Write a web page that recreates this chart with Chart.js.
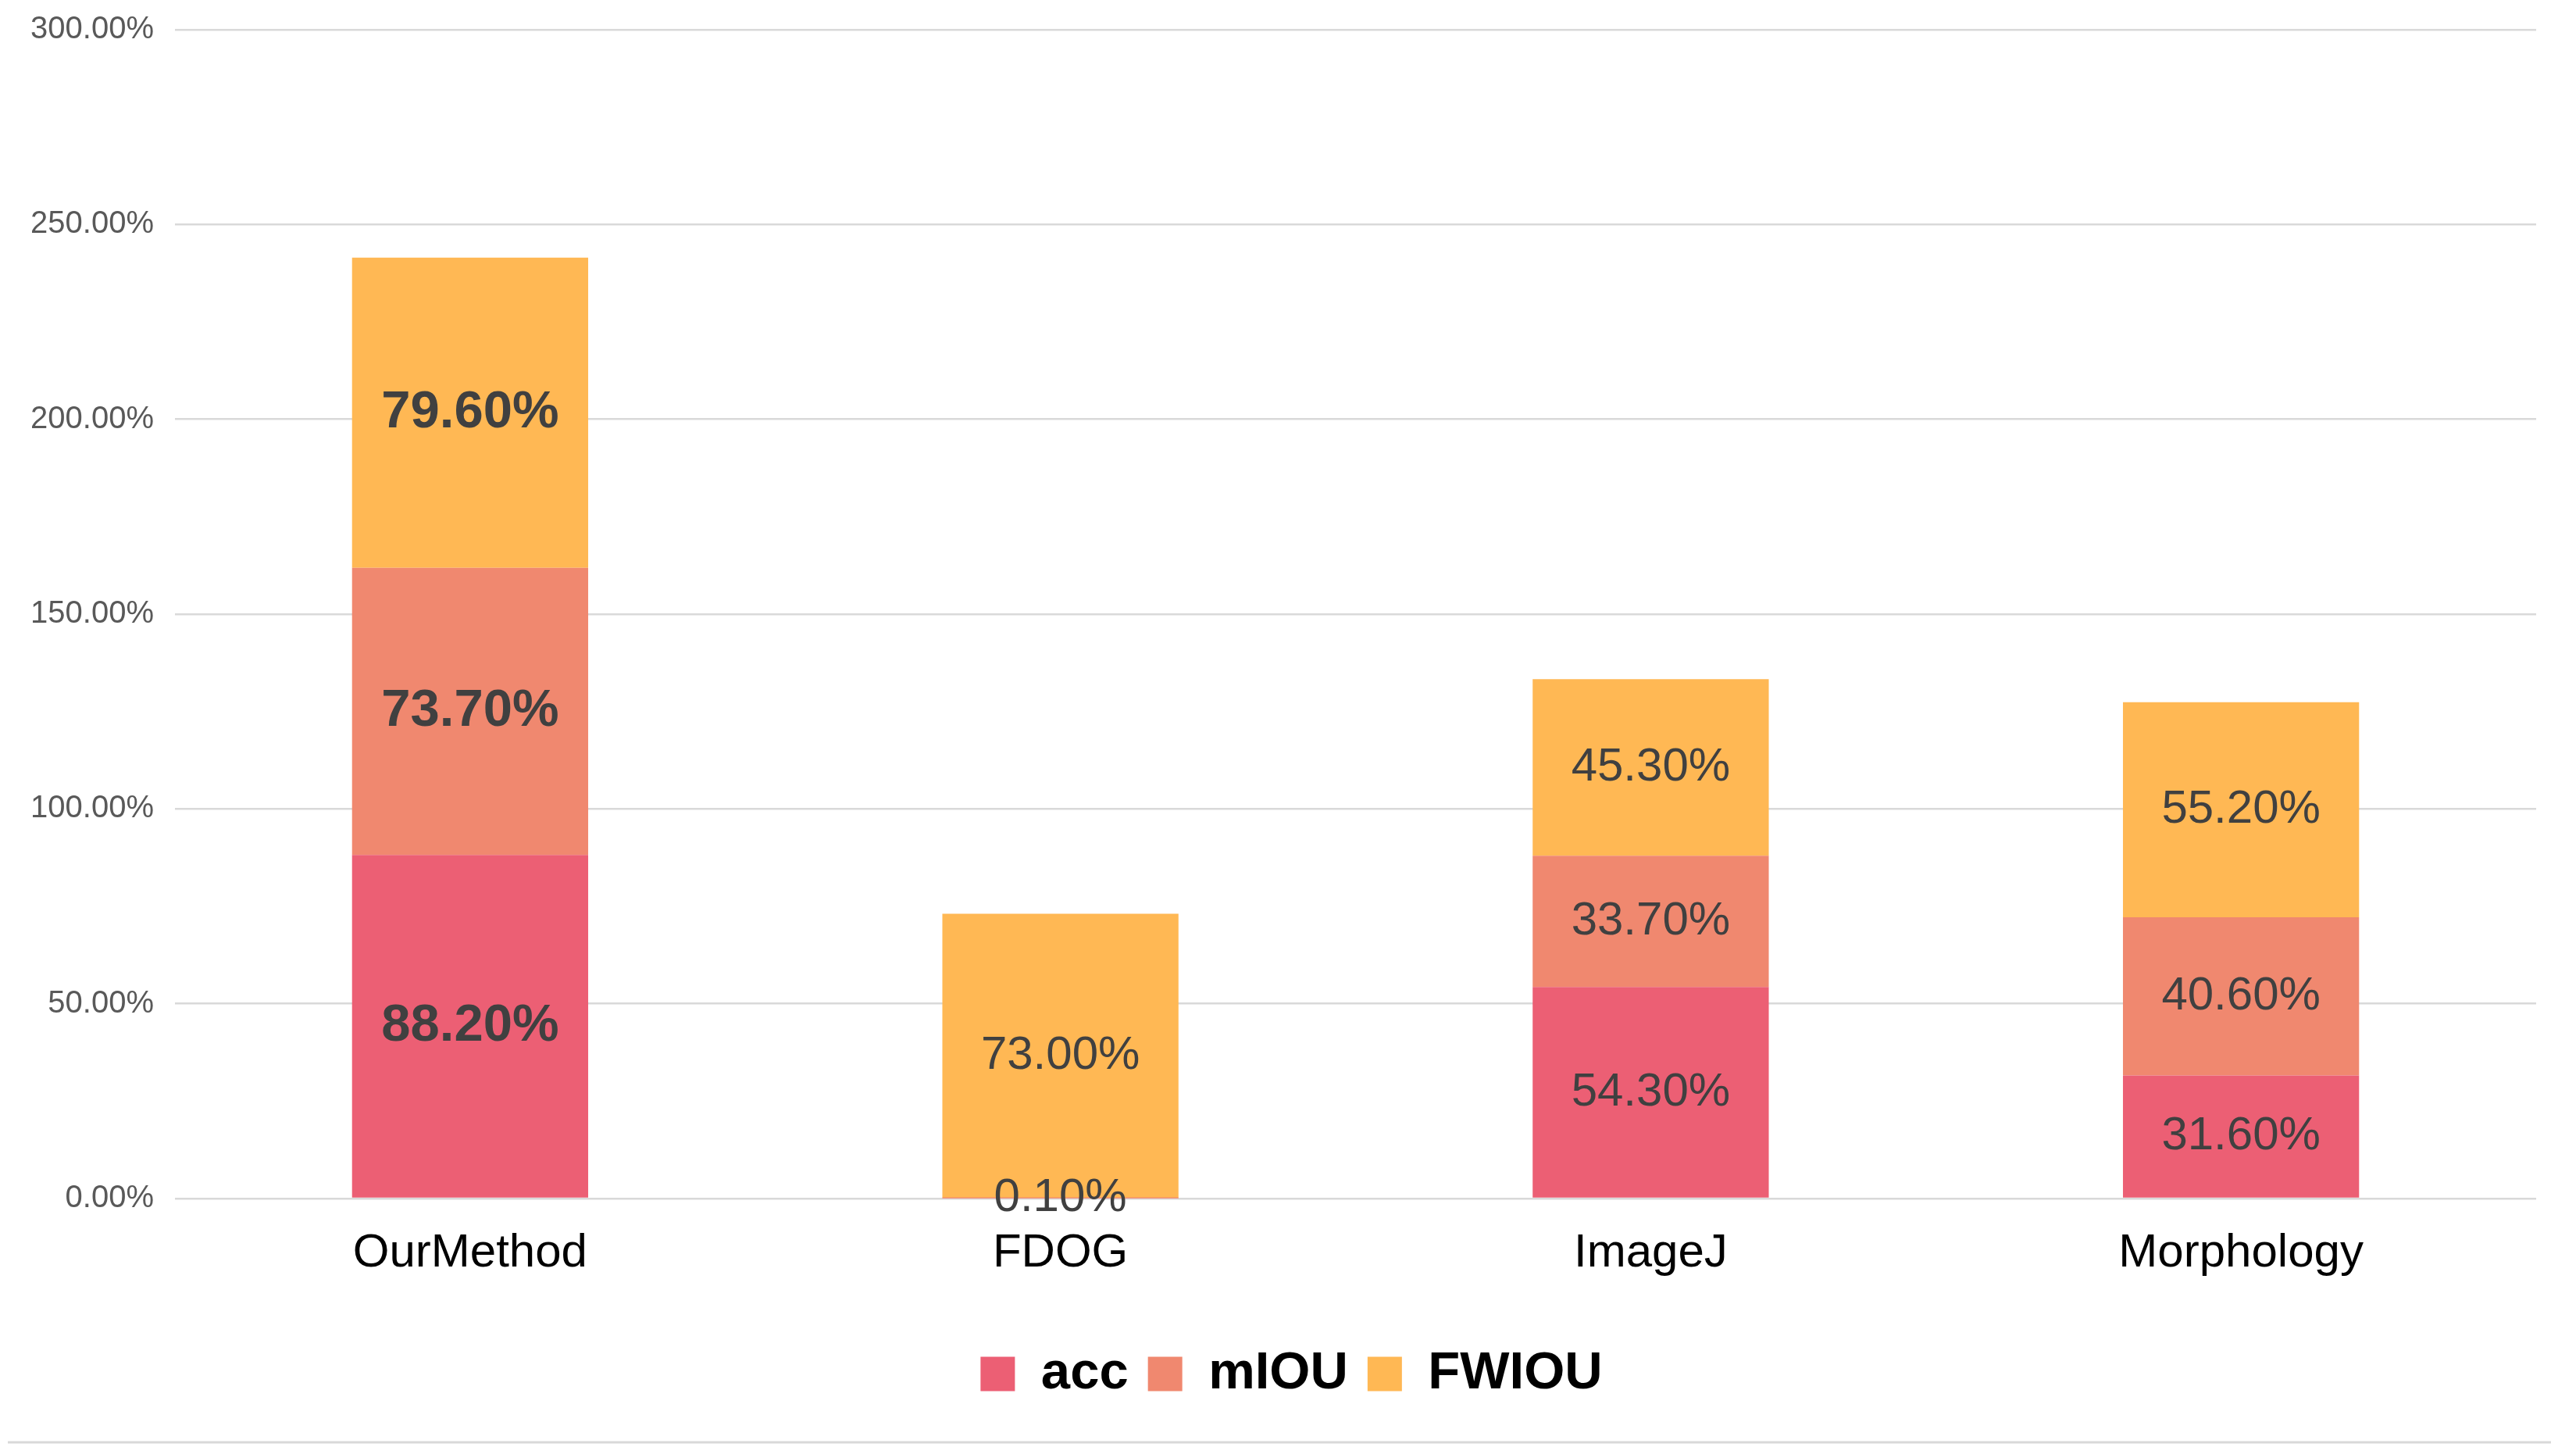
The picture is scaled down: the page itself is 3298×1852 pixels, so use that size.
<!DOCTYPE html>
<html><head><meta charset="utf-8">
<script src="https://cdn.jsdelivr.net/npm/chart.js@4"></script>
<style>html,body{margin:0;padding:0;background:#fff;overflow:hidden;} canvas{display:block;}</style>
</head><body>
<canvas id="c" width="3298" height="1852"></canvas>
<script>
const categories = ['OurMethod', 'FDOG', 'ImageJ', 'Morphology'];
const accValues = [88.2, 0.1, 54.3, 31.6];
const miouValues = [73.7, null, 33.7, 40.6];
const fwiouValues = [79.6, 73.0, 45.3, 55.2];
const seriesNames = ['acc', 'mIOU', 'FWIOU'];
const yTickValues = [0, 50, 100, 150, 200, 250, 300];
const highlighted = 'OurMethod';

const FONT = "'Liberation Sans', Arial, sans-serif";
const colors = ['#EC5F74', '#F0886F', '#FFB854'];

const valueLabels = {
  id: 'valueLabels',
  afterDatasetsDraw(chart) {
    const ctx = chart.ctx;
    chart.data.datasets.forEach((ds, di) => {
      const meta = chart.getDatasetMeta(di);
      meta.data.forEach((bar, i) => {
        const v = ds.data[i];
        if (v === null || v === undefined) return;
        const bold = chart.data.labels[i] === highlighted;
        ctx.save();
        ctx.font = (bold ? 'bold 67px ' : '60px ') + FONT;
        ctx.fillStyle = '#404040';
        ctx.textAlign = 'center';
        ctx.textBaseline = 'middle';
        ctx.fillText(v.toFixed(2) + '%', bar.x, (bar.y + bar.base) / 2);
        ctx.restore();
      });
    });
  }
};

const bottomRule = {
  id: 'bottomRule',
  afterLayout(chart) {
    const lg = chart.legend;
    if (lg) { lg.left += 30; lg.right += 30; }
  },
  afterDraw(chart) {
    const ctx = chart.ctx;
    ctx.save();
    ctx.strokeStyle = '#d9d9d9';
    ctx.lineWidth = 3;
    ctx.beginPath();
    ctx.moveTo(10, 1846);
    ctx.lineTo(3266, 1846);
    ctx.stroke();
    ctx.restore();
  }
};

const seriesValues = [accValues, miouValues, fwiouValues];

new Chart(document.getElementById('c'), {
  type: 'bar',
  data: {
    labels: categories,
    datasets: seriesNames.map((name, k) => ({
      label: name,
      data: seriesValues[k],
      backgroundColor: colors[k],
      borderWidth: 0,
      categoryPercentage: 1.0,
      barPercentage: 0.4
    }))
  },
  options: {
    responsive: false,
    devicePixelRatio: 1,
    animation: false,
    layout: { padding: { top: 38, right: 51, left: 0, bottom: 50 } },
    scales: {
      x: {
        stacked: true,
        grid: { display: false, drawTicks: false },
        border: { display: false },
        ticks: { color: '#000', font: { family: FONT, size: 60 }, padding: 34 },
        afterFit(scale) { scale.height = 166; }
      },
      y: {
        stacked: true,
        min: 0, max: 300,
        afterBuildTicks(scale) { scale.ticks = yTickValues.map(v => ({ value: v })); },
        afterFit(scale) { scale.width = 224; scale.paddingTop = 0; scale.paddingBottom = 0; },
        grid: { color: '#d9d9d9', lineWidth: 2.5, drawTicks: false },
        border: { display: false },
        ticks: {
          color: '#595959',
          font: { family: FONT, size: 40 },
          padding: 27,
          callback: v => v.toFixed(2) + '%'
        }
      }
    },
    plugins: {
      legend: {
        position: 'bottom',
        labels: {
          boxWidth: 44, boxHeight: 44,
          padding: 25,
          color: '#000',
          font: { family: FONT, size: 67, weight: 'bold' }
        }
      },
      tooltip: { enabled: false }
    }
  },
  plugins: [valueLabels, bottomRule]
});
</script>
</body></html>
